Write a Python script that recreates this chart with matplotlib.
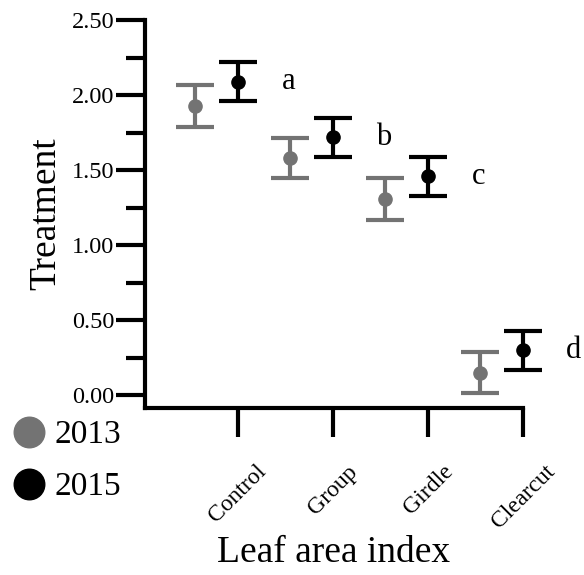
import numpy as np
import matplotlib.pyplot as plt
from matplotlib.lines import Line2D

plt.rcParams['font.family'] = ['Liberation Serif', 'DejaVu Serif']

# datos
treatments = ['Control', 'Group', 'Girdle', 'Clearcut']
lai_2013 = [1.93, 1.58, 1.31, 0.15]
err_2013 = [0.14, 0.135, 0.14, 0.135]
lai_2015 = [2.09, 1.72, 1.46, 0.30]
err_2015 = [0.13, 0.13, 0.13, 0.13]
letters = ['a', 'b', 'c', 'd']

grey = '#737373'

fig = plt.figure(figsize=(5.84, 5.75), dpi=100)
ax = fig.add_axes([0.248, 0.290, 0.648, 0.675])

x = np.arange(1, len(treatments) + 1)

for xs, ys, es, c in [(x - 0.45, lai_2013, err_2013, grey),
                      (x, lai_2015, err_2015, 'black')]:
    parts = ax.errorbar(xs, ys, yerr=es, fmt='o', color=c, ms=9.5,
                        elinewidth=3, capsize=14, capthick=3)
    for art in [parts[0]] + list(parts[1]) + list(parts[2]):
        art.set_clip_on(False)

for xi, yi, t in zip(x, lai_2015, letters):
    ax.text(xi + 0.53, yi, t, fontsize=22, ha='center', va='center',
            clip_on=False)

ax.set_xlim(0.02, 4.0)
ax.set_ylim(-0.087, 2.5)

ax.set_yticks(np.arange(0, 2.51, 0.5))
ax.set_yticks(np.arange(0.25, 2.5, 0.5), minor=True)
ax.set_yticklabels(['%.2f' % v for v in np.arange(0, 2.51, 0.5)], fontsize=17.5)
ax.set_xticks(x)
ax.set_xticklabels(treatments, rotation=45, fontsize=17, ha='center')

ax.spines['top'].set_visible(False)
ax.spines['right'].set_visible(False)
ax.spines['left'].set_linewidth(3)
ax.spines['bottom'].set_linewidth(3)
ax.tick_params(axis='y', which='major', length=21, width=3, pad=1)
ax.tick_params(axis='y', which='minor', length=14, width=3)
ax.tick_params(axis='x', which='major', length=21, width=3, pad=17)

ax.set_ylabel('Treatment', fontsize=27, labelpad=6)
ax.set_xlabel('Leaf area index', fontsize=27, labelpad=2)

handles = [Line2D([], [], marker='o', ls='', color=grey, ms=22),
           Line2D([], [], marker='o', ls='', color='black', ms=22)]
fig.legend(handles, ['2013', '2015'], loc='upper left',
           bbox_to_anchor=(0.024, 0.270), frameon=False, fontsize=24,
           handlelength=0.9, handletextpad=0.3, labelspacing=0.65,
           borderaxespad=0, borderpad=0)

fig.savefig('out.png', dpi=100)
